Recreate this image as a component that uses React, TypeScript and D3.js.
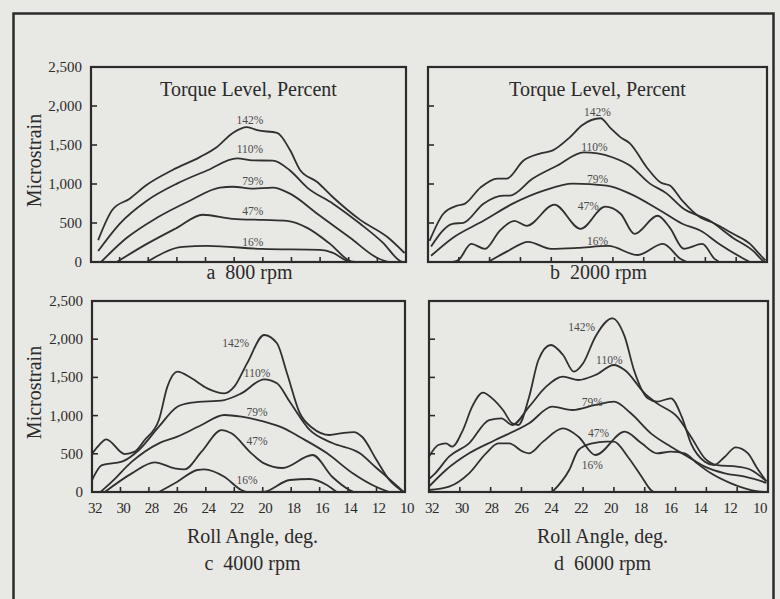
import * as d3 from "d3"

type Pt = [number, number]

// roll angle ticks (deg) and strain ticks (microstrain)
const rollAngles = [32, 30, 28, 26, 24, 22, 20, 18, 16, 14, 12, 10]
const strainTicks = [0, 500, 1000, 1500, 2000, 2500]
const torqueLevels = ["142%", "110%", "79%", "47%", "16%"]
const panelCaptions = ["a  800 rpm", "b  2000 rpm", "c  4000 rpm", "d  6000 rpm"]

// a: 800 rpm  [roll angle, microstrain]
const a142: Pt[] = [[31.5, 280], [30.5, 670], [29.3, 812], [28.1, 990], [26.3, 1180], [24.4, 1345], [23.2, 1475], [22.1, 1655], [21.1, 1730], [20.4, 1690], [19.0, 1655], [18.1, 1435], [17.4, 1180], [16.2, 1025], [15.1, 830], [13.2, 540], [11.3, 320], [10.1, 115]]
const a110: Pt[] = [[31.5, 140], [30.0, 490], [28.1, 786], [26.0, 1005], [23.9, 1173], [21.8, 1328], [20.7, 1302], [19.3, 1300], [18.1, 1173], [16.9, 954], [15.1, 748], [13.2, 490], [11.6, 245], [10.4, 13], [10.2, 0]]
const a79: Pt[] = [[31.3, 0], [29.5, 310], [27.4, 567], [25.1, 786], [23.0, 954], [22.1, 965], [20.7, 940], [19.3, 954], [18.1, 876], [16.2, 619], [13.9, 310], [12.0, 52], [11.2, 0]]
const a47: Pt[] = [[30.2, 0], [28.1, 232], [26.0, 438], [24.2, 606], [22.1, 554], [20.0, 540], [18.3, 528], [16.9, 438], [15.3, 232], [13.9, 13], [13.5, 0]]
const a16: Pt[] = [[28.1, 0], [25.6, 193], [23.9, 206], [20.0, 167], [16.0, 155], [15.1, 116], [14.1, 13], [13.8, 0]]
const labelsA: Pt[] = [[20.9, 1817], [20.9, 1444], [20.7, 1044], [20.7, 657], [20.7, 258]]

// b: 2000 rpm
const b142: Pt[] = [[31.9, 270], [31.0, 619], [30.1, 722], [29.6, 748], [28.6, 954], [27.5, 1070], [26.9, 1070], [25.8, 1302], [24.7, 1392], [23.9, 1431], [22.8, 1598], [22.0, 1753], [20.8, 1843], [20.2, 1727], [19.5, 1598], [18.9, 1521], [17.8, 1212], [16.9, 1018], [16.3, 980], [15.5, 786], [14.3, 567], [13.5, 503], [12.2, 361], [11.1, 232], [10.5, 103], [10.1, 20]]
const b110: Pt[] = [[31.8, 200], [30.4, 490], [29.7, 503], [28.4, 748], [27.1, 851], [26.7, 851], [25.2, 1070], [23.6, 1237], [21.9, 1405], [21.0, 1392], [20.0, 1340], [18.9, 1237], [17.6, 1005], [16.5, 877], [15.5, 696], [13.7, 528], [12.2, 309], [10.9, 142], [10.4, 40], [10.2, 0]]
const b79: Pt[] = [[31.8, 80], [30.4, 309], [28.4, 528], [26.5, 748], [24.5, 915], [22.6, 1005], [20.4, 980], [18.9, 877], [16.9, 657], [15.5, 490], [14.3, 400], [13.1, 232], [11.6, 52], [11.1, 0]]
const b47: Pt[] = [[30.4, 0], [30.0, 30], [29.2, 232], [28.3, 168], [27.35, 400], [26.4, 528], [25.6, 464], [23.8, 735], [22.1, 425], [20.5, 709], [19.5, 619], [18.6, 361], [17.1, 593], [16.3, 438], [15.4, 170], [14.2, 232], [13.4, 40], [13.1, 0]]
const b16: Pt[] = [[28.1, 0], [26.8, 142], [25.5, 258], [24.0, 168], [22.3, 180], [20.3, 206], [18.4, 90], [16.75, 232], [15.6, 39], [15.2, 0]]
const labelsB: Pt[] = [[21.0, 1921], [21.2, 1470], [21.0, 1070], [21.6, 722], [21.0, 271]]

// c: 4000 rpm
const c142: Pt[] = [[32, 500], [31.5, 615], [31.0, 690], [29.7, 497], [29.0, 528], [28.3, 680], [27.3, 942], [26.7, 1379], [26.0, 1575], [25.0, 1488], [23.9, 1357], [22.7, 1291], [22.0, 1379], [21.1, 1684], [19.9, 2055], [19.0, 1946], [18.3, 1558], [17.4, 1034], [16.5, 838], [15.3, 746], [14.4, 772], [13.6, 785], [13.0, 720], [12.0, 419], [11.1, 157], [10.3, 26], [10.1, 0]]
const c110: Pt[] = [[32, 157], [31.3, 353], [29.9, 397], [28.7, 550], [27.3, 855], [26.0, 1117], [25.0, 1169], [22.7, 1204], [21.5, 1291], [19.9, 1475], [19.0, 1422], [18.1, 1180], [16.7, 812], [15.1, 641], [13.2, 510], [12.0, 314], [10.4, 52], [10.1, 0]]
const c79: Pt[] = [[31.4, 0], [30.6, 135], [29.2, 397], [27.3, 637], [26.0, 724], [24.3, 877], [22.7, 1008], [21.5, 986], [19.9, 920], [18.5, 833], [17.4, 720], [15.5, 510], [13.7, 249], [12.0, 65], [11.1, 0]]
const c47: Pt[] = [[31.1, 0], [29.2, 244], [27.6, 388], [26.2, 310], [25.5, 297], [24.3, 528], [22.9, 811], [22.2, 768], [20.8, 506], [19.9, 375], [18.6, 314], [16.5, 484], [15.1, 196], [13.9, 26], [13.6, 0]]
const c16: Pt[] = [[27.3, 0], [26.0, 135], [24.6, 288], [24.1, 297], [22.7, 200], [21.5, 26], [21.1, 0], [20.0, 0], [18.1, 157], [16.7, 170], [15.5, 92], [14.8, 0]]
const labelsC: Pt[] = [[21.9, 1950], [20.4, 1558], [20.4, 1047], [20.4, 668], [21.1, 157]]

// d: 6000 rpm
const d142: Pt[] = [[32, 462], [31.4, 615], [30.9, 637], [30.5, 593], [29.8, 811], [29.2, 1117], [28.5, 1300], [27.9, 1226], [27.2, 1073], [26.6, 899], [26.2, 877], [25.5, 1248], [24.9, 1728], [24.1, 1924], [23.3, 1793], [22.6, 1575], [22.0, 1684], [21.2, 2033], [20.1, 2273], [19.3, 2033], [18.7, 1597], [17.8, 1226], [17.2, 1182], [16.3, 1226], [15.6, 986], [15.0, 637], [14.1, 397], [13.5, 353], [12.8, 462], [12.1, 585], [11.3, 506], [10.7, 310], [10.1, 140]]
const d110: Pt[] = [[32, 170], [31.6, 244], [30.7, 462], [29.4, 637], [28.1, 942], [27.3, 964], [26.6, 877], [25.5, 1117], [24.4, 1379], [23.3, 1510], [22.3, 1466], [21.2, 1531], [20.0, 1662], [19.3, 1597], [18.0, 1291], [17.2, 1160], [15.9, 986], [15.0, 724], [14.1, 441], [13.3, 353], [12.0, 332], [11.1, 288], [10.1, 140]]
const d79: Pt[] = [[32, 70], [30.9, 288], [29.4, 506], [27.7, 681], [25.5, 899], [24.0, 1117], [22.7, 1073], [21.2, 1139], [20.0, 1182], [18.9, 1030], [17.6, 768], [16.3, 593], [15.2, 462], [14.1, 332], [12.8, 244], [11.5, 200], [10.1, 120]]
const d47: Pt[] = [[32, 26], [30.7, 70], [29.4, 244], [28.3, 506], [27.5, 637], [26.8, 637], [25.9, 528], [25.5, 506], [24.6, 659], [23.3, 833], [22.3, 724], [21.2, 484], [19.3, 790], [18.2, 637], [17.2, 506], [16.3, 528], [15.4, 506], [14.6, 375], [13.7, 244], [12.4, 113], [11.1, 26], [10.2, 0]]
const d16: Pt[] = [[24.0, 0], [22.9, 288], [22.3, 550], [21.4, 637], [20.5, 660], [20.0, 659], [19.1, 462], [18.2, 200], [17.6, 26], [17.4, 0]]
const labelsD: Pt[] = [[22.1, 2160], [20.3, 1728], [21.4, 1178], [21.0, 772], [21.4, 353]]

const INK = "#2b2b2b"
const FONT = "'Liberation Serif', 'Times New Roman', 'DejaVu Serif', serif"

interface PanelProps {
  id: string
  caption: string
  series: Pt[][]
  labels: Pt[]
  xRange: [number, number]
  yRange: [number, number]
  tickLabelRange: [number, number]
  left: boolean
  bottom: boolean
}

function Panel({ id, caption, series, labels, xRange, yRange, tickLabelRange, left, bottom }: PanelProps) {
  const x = d3.scaleLinear().domain([32, 10]).range(xRange)
  const y = d3.scaleLinear().domain([0, 2500]).range(yRange)
  // the printed tick numbers sit on a slightly narrower run than the ticks
  const xLabel = d3.scaleLinear().domain([32, 10]).range(tickLabelRange)
  const line = d3.line<Pt>()
    .x(d => x(d[0]))
    .y(d => y(d[1]))
    .curve(d3.curveMonotoneX)

  const x0 = xRange[0]
  const x1 = xRange[1]
  const yb = yRange[0]
  const yt = yRange[1]
  const cx = (x0 + x1) / 2
  const cy = (yb + yt) / 2

  return (
    <g>
      <clipPath id={`clip-${id}`}>
        <rect x={x0} y={yt} width={x1 - x0} height={yb - yt} />
      </clipPath>

      <g clipPath={`url(#clip-${id})`}>
        {series.map((s, i) => (
          <path key={i} d={line(s) ?? ""} fill="none" stroke="#303030" strokeWidth={1.8} strokeLinejoin="round" />
        ))}
      </g>

      {labels.map((d, i) => (
        <text key={i} x={x(d[0])} y={y(d[1]) + 4} textAnchor="middle" fontSize={11.5} fill="#4a4a4a">
          {torqueLevels[i]}
        </text>
      ))}

      {/* tick marks point into the box */}
      {rollAngles.slice(1, -1).map(a => (
        <line key={a} x1={x(a)} x2={x(a)} y1={yb} y2={yb - 5} stroke={INK} strokeWidth={1.6} />
      ))}
      {strainTicks.slice(1, -1).map(v => (
        <line key={v} x1={x0} x2={x0 + 6} y1={y(v)} y2={y(v)} stroke={INK} strokeWidth={1.6} />
      ))}

      <rect x={x0} y={yt} width={x1 - x0} height={yb - yt} fill="none" stroke={INK} strokeWidth={2.2} />

      {left && strainTicks.map(v => (
        <text key={v} x={x0 - 9} y={y(v) + 5} textAnchor="end" fontSize={15} fill={INK}>
          {d3.format(",")(v)}
        </text>
      ))}
      {left && (
        <text transform={`translate(41,${cy - 4}) rotate(-90)`} textAnchor="middle" fontSize={20} fill={INK}>
          Microstrain
        </text>
      )}

      {bottom ? (
        <g>
          {rollAngles.map(a => (
            <text key={a} x={xLabel(a)} y={yb + 21} textAnchor="middle" fontSize={15} letterSpacing={-0.6} fill={INK}>
              {a}
            </text>
          ))}
          <text x={cx + 4} y={yb + 51} textAnchor="middle" fontSize={20} fill={INK}>Roll Angle, deg.</text>
          <text x={cx + 4} y={yb + 78} textAnchor="middle" fontSize={20} fill={INK} style={{ whiteSpace: "pre" }}>{caption}</text>
        </g>
      ) : (
        <g>
          <text x={cx} y={yt + 29} textAnchor="middle" fontSize={20} fill={INK}>Torque Level, Percent</text>
          <text x={cx + 1} y={yb + 17} textAnchor="middle" fontSize={20} fill={INK} style={{ whiteSpace: "pre" }}>{caption}</text>
        </g>
      )}
    </g>
  )
}

export default function App() {
  const panels: PanelProps[] = [
    { id: "a", caption: panelCaptions[0], series: [a142, a110, a79, a47, a16], labels: labelsA, xRange: [91, 406], yRange: [262, 67], tickLabelRange: [95, 407], left: true, bottom: false },
    { id: "b", caption: panelCaptions[1], series: [b142, b110, b79, b47, b16], labels: labelsB, xRange: [428, 767], yRange: [262, 67], tickLabelRange: [432, 760], left: false, bottom: false },
    { id: "c", caption: panelCaptions[2], series: [c142, c110, c79, c47, c16], labels: labelsC, xRange: [92, 405], yRange: [492, 301], tickLabelRange: [95, 407], left: true, bottom: true },
    { id: "d", caption: panelCaptions[3], series: [d142, d110, d79, d47, d16], labels: labelsD, xRange: [429, 768], yRange: [492, 301], tickLabelRange: [432, 760], left: false, bottom: true },
  ]

  return (
    <svg
      width={780}
      height={599}
      style={{ position: "absolute", left: 0, top: 0, background: "#e8e8e5" }}
      fontFamily={FONT}
    >
      <rect x={0} y={0} width={780} height={599} fill="#e8e8e5" />
      <rect x={13.5} y={13.5} width={760} height={640} fill="none" stroke={INK} strokeWidth={2.5} />
      {panels.map(p => <Panel key={p.id} {...p} />)}
    </svg>
  )
}
